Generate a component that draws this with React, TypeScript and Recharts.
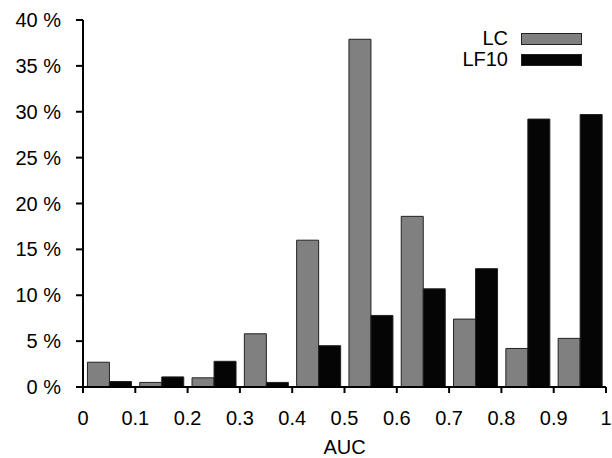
import { Bar, BarChart, Legend, XAxis, YAxis } from "recharts";

const bins = ["0-0.1", "0.1-0.2", "0.2-0.3", "0.3-0.4", "0.4-0.5", "0.5-0.6", "0.6-0.7", "0.7-0.8", "0.8-0.9", "0.9-1"];
const binMids = [0.05, 0.15, 0.25, 0.35, 0.45, 0.55, 0.65, 0.75, 0.85, 0.95];
const lcValues = [2.7, 0.5, 1.0, 5.8, 16.0, 37.9, 18.6, 7.4, 4.2, 5.3];
const lf10Values = [0.6, 1.1, 2.8, 0.5, 4.5, 7.8, 10.7, 12.9, 29.2, 29.7];
const xTicks = [0, 0.1, 0.2, 0.3, 0.4, 0.5, 0.6, 0.7, 0.8, 0.9, 1];
const yTicks = [0, 5, 10, 15, 20, 25, 30, 35, 40];

const data = bins.map((bin, i) => ({
  bin,
  mid: binMids[i],
  LC: lcValues[i],
  LF10: lf10Values[i],
}));

const FONT = "'Liberation Sans', Arial, sans-serif";

const legendItems = [
  { name: "LC", color: "#808080" },
  { name: "LF10", color: "#050505" },
];

function ChartLegend() {
  return (
    <div style={{ fontFamily: FONT, fontSize: 20, color: "#000" }}>
      {legendItems.map((item) => (
        <div
          key={item.name}
          style={{
            display: "flex",
            alignItems: "center",
            justifyContent: "flex-end",
            height: 21,
          }}
        >
          <span style={{ lineHeight: "21px" }}>{item.name}</span>
          <span
            style={{
              display: "inline-block",
              width: 59,
              height: 10,
              marginLeft: 13,
              background: item.color,
              border: "1px solid #222",
            }}
          />
        </div>
      ))}
    </div>
  );
}

export default function App() {
  const tickStyle = { fontFamily: FONT, fontSize: 20, fill: "#000" };
  return (
    <div style={{ position: "absolute", left: 0, top: 0, background: "#fff" }}>
      <BarChart
        width={612}
        height={458}
        data={data}
        margin={{ top: 20, right: 6, left: 0, bottom: 0 }}
        barCategoryGap="8.5%"
        barGap={0}
      >
        <XAxis xAxisId="cat" dataKey="bin" hide height={0} />
        <XAxis
          xAxisId="num"
          dataKey="mid"
          type="number"
          domain={[0, 1]}
          ticks={xTicks}
          tickFormatter={(v: number) => String(v)}
          height={71}
          stroke="#000"
          strokeWidth={2}
          tickSize={6}
          tickMargin={18}
          tick={tickStyle}
          label={{
            value: "AUC",
            position: "insideBottom",
            offset: 4,
            style: { fontFamily: FONT, fontSize: 20, fill: "#000" },
          }}
        />
        <YAxis
          domain={[0, 40]}
          ticks={yTicks}
          tickFormatter={(v: number) => `${v} %`}
          width={83}
          stroke="#000"
          strokeWidth={2}
          tickSize={7}
          tickMargin={15}
          tick={tickStyle}
        />
        <Legend
          layout="horizontal"
          verticalAlign="middle"
          align="center"
          content={<ChartLegend />}
          wrapperStyle={{ position: "absolute", left: 430, top: 28, width: 152 }}
        />
        <Bar xAxisId="cat" dataKey="LC" fill="#808080" stroke="#222" strokeWidth={1} isAnimationActive={false} />
        <Bar xAxisId="cat" dataKey="LF10" fill="#050505" stroke="#222" strokeWidth={1} isAnimationActive={false} />
      </BarChart>
    </div>
  );
}
